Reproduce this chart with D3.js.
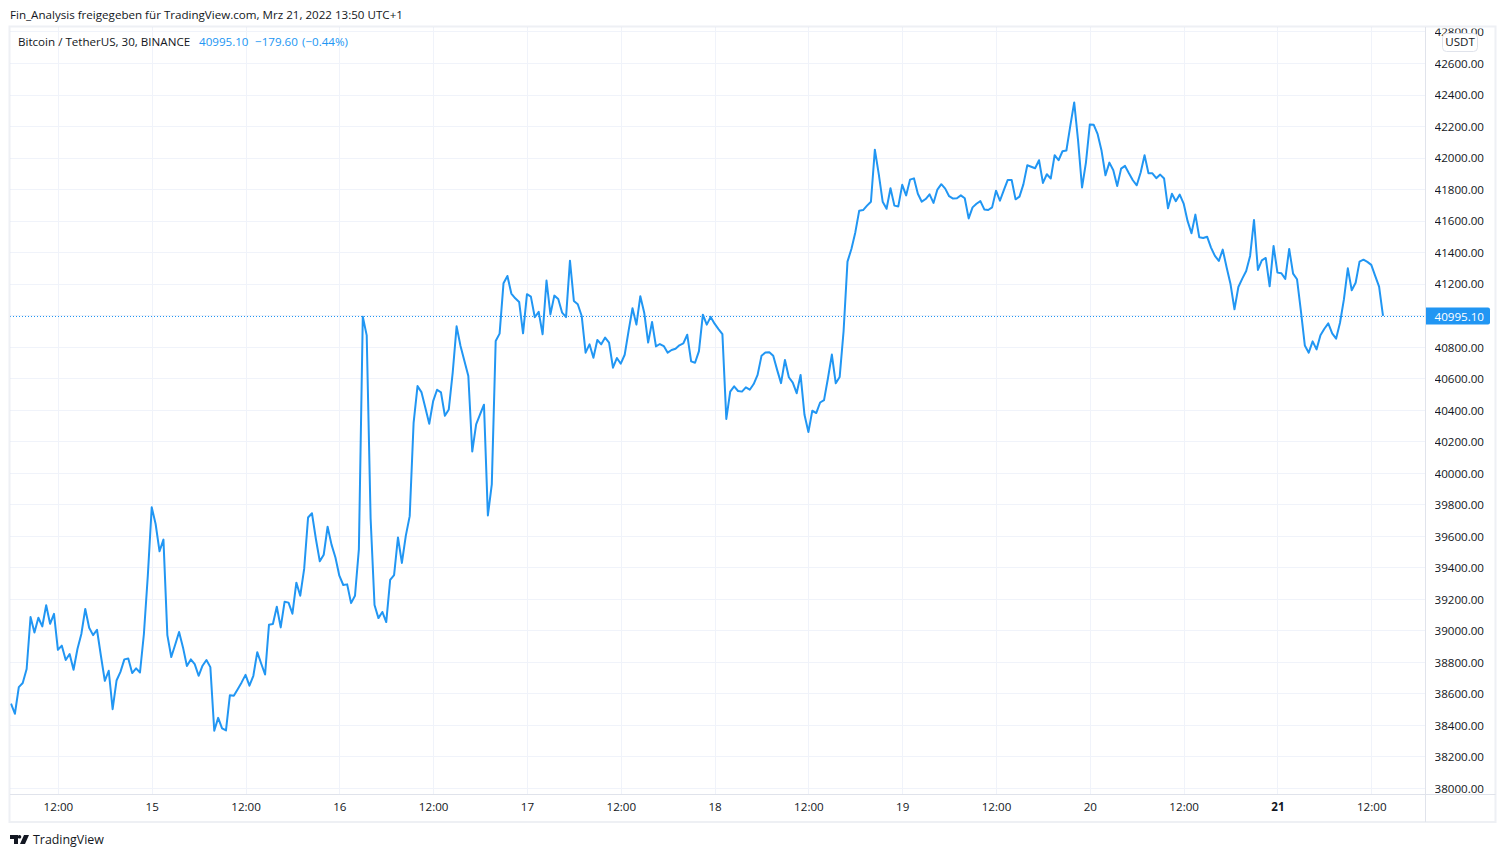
<!DOCTYPE html>
<html><head><meta charset="utf-8">
<script src="https://cdn.jsdelivr.net/npm/d3@7/dist/d3.min.js"></script>
<style>
html,body{margin:0;padding:0;background:#fff}
svg{display:block}
text{font-family:"Open Sans",Lato,sans-serif;font-size:11.6px;fill:#131722}
.domain{display:none}
</style></head><body><svg id="c" width="1505" height="857"></svg>
<script>
const closes = [
38536,38471,38640,38666,38755,39085,38987,39080,39025,39160,39042,39105,38877,38903,38812,38850,38750,38882,38977,39136,
39017,38970,39004,38839,38680,38744,38500,38682,38737,38816,38822,38729,38759,38733,38977,39347,39781,39675,39502,39576,
38970,38831,38909,38990,38892,38774,38816,38786,38712,38776,38812,38767,38363,38445,38378,38365,38589,38585,38627,38670,
38718,38649,38712,38862,38790,38720,39036,39040,39150,39019,39182,39176,39106,39303,39220,39390,39716,39743,39580,39438,
39480,39658,39544,39463,39347,39288,39292,39173,39220,39516,
40990,40872,39710,39161,39078,39117,39053,39320,39351,39590,39428,39600,39725,40317,40550,40512,40413,40311,40455,40527,
40510,40362,40402,40635,40929,40804,40709,40614,40135,40307,40370,40432,39729,39926,40836,40883,41203,41249,41137,41107,
41084,40885,41133,41118,40987,41021,40879,41220,41005,41124,41103,41016,40988,41346,41090,41069,40995,40762,40815,40730,
40843,40815,40858,40826,40667,40728,40692,40749,40900,41044,40940,41120,41016,40826,40957,40802,40817,40804,40762,40779,
40787,40809,40821,40876,40707,40698,40772,
41003,40940,40989,40946,40912,40880,40342,40515,40548,40519,40515,40542,40527,40563,40621,40742,40763,40765,40742,40653,
40569,40716,40606,40572,40505,40621,40368,40259,40394,40379,40446,40461,40600,40750,40568,40608,40898,41340,41420,41525,
41663,41667,41695,41720,42050,41895,41720,41675,41805,41695,41690,41827,41760,41860,41868,41770,41720,41737,41767,41712,
41797,41831,41803,41755,41740,41742,41760,41742,41614,41684,41707,41724,41671,41667,41684,41790,41726,41794,41858,41858,
41735,41752,41830,41951,41942,41932,41983,41839,41894,41867,
42015,41983,42040,42045,42201,42350,42106,41810,41968,42210,42208,42148,42043,41888,41968,41920,41820,41930,41947,41900,
41856,41824,41905,42015,41900,41900,41869,41892,41867,41678,41770,41723,41765,41708,41598,41520,41638,41494,41490,41498,
41429,41376,41344,41416,41302,41196,41037,41179,41232,41280,41376,41604,41287,41348,41363,41183,41439,41270,41266,41230,
41420,41264,41228,41026,40808,40762,40834,40783,40872,40914,40948,40885,40851,40952,41100,41297,41158,41206,41340,41352,
41338,41319,41249,41181,40995.10
];
const priceTicks = [38000,38200,38400,38600,38800,39000,39200,39400,39600,39800,40000,40200,40400,40600,40800,41000,41200,41400,41600,41800,42000,42200,42400,42600,42800];
const timeLabels = ["12:00","15","12:00","16","12:00","17","12:00","18","12:00","19","12:00","20","12:00","21","12:00"];
const lastPrice = 40995.10;
const titleText = "Fin_Analysis freigegeben für TradingView.com, Mrz 21, 2022 13:50 UTC+1";
const symbolText = "Bitcoin / TetherUS, 30, BINANCE";
const quoteParts = ["40995.10","\u2212179.60","(\u22120.44%)"];

const start = Date.UTC(2022,2,14,6,0);
const halfHour = 18e5;
const rows = closes.map((v,i)=>({t:new Date(start+i*halfHour),v}));
const timeTicks = timeLabels.map((_,i)=>new Date(Date.UTC(2022,2,14,12)+i*12*36e5));

const L=10,R=1425,T=27,B=794.5,FR=1495.5,FB=822;
const x=d3.scaleUtc().domain([rows[0].t,rows[rows.length-1].t]).range([11,1383]);
const y=d3.scaleLinear().domain([38000,42600]).range([788,63]);
const blue="#2196f3",grid="#f0f3fa",edge="#e0e3eb";
const svg=d3.select("#c");
const snap=p=>Math.round(p)+.5;

svg.append("defs").append("clipPath").attr("id","pane").append("rect").attr("x",L).attr("y",T).attr("width",R-L).attr("height",B-T);
svg.append("defs").append("clipPath").attr("id","frame").append("rect").attr("x",L).attr("y",T+1).attr("width",FR-L).attr("height",FB-T);

const g=svg.append("g").attr("clip-path","url(#pane)");
g.selectAll(".h").data(priceTicks).join("line").attr("x1",L).attr("x2",R)
 .attr("y1",d=>snap(y(d))).attr("y2",d=>snap(y(d))).attr("stroke",grid);
g.selectAll(".v").data(timeTicks).join("line").attr("y1",T).attr("y2",B)
 .attr("x1",d=>snap(x(d))).attr("x2",d=>snap(x(d))).attr("stroke",grid);

// frame
svg.append("rect").attr("x",9.5).attr("y",26.5).attr("width",FR-9.5).attr("height",FB-26.5).attr("fill","none").attr("stroke",edge).attr("stroke-opacity",.55).attr("stroke-width",2);
svg.append("line").attr("x1",snap(R)).attr("x2",snap(R)).attr("y1",T).attr("y2",FB).attr("stroke",edge);
svg.append("line").attr("x1",L).attr("x2",FR).attr("y1",B).attr("y2",B).attr("stroke",edge);

// last price line
g.append("line").attr("x1",L).attr("x2",R).attr("y1",snap(y(lastPrice))).attr("y2",snap(y(lastPrice)))
 .attr("stroke",blue).attr("stroke-dasharray","1 2");

// series
g.append("path").datum(rows).attr("fill","none").attr("stroke",blue).attr("stroke-width",2).attr("stroke-linejoin","round")
 .attr("d",d3.line().x(d=>x(d.t)).y(d=>y(d.v)));

// axes
const ay=svg.append("g").attr("clip-path","url(#frame)").attr("transform",`translate(${R},0.6)`)
 .call(d3.axisRight(y).tickValues(priceTicks.filter(d=>d!==41000)).tickFormat(d3.format(".2f")).tickSize(0).tickPadding(9.5));
ay.selectAll("text").style("font-size","11.6px");
const ax=svg.append("g").attr("transform",`translate(0,${B+0.6})`)
 .call(d3.axisBottom(x).tickValues(timeTicks).tickFormat((d,i)=>timeLabels[i]).tickSize(0).tickPadding(8));
ax.selectAll("text").style("font-size","11.6px").style("font-weight",(d,i)=>timeLabels[i]==="21"?"700":"400");

// last price badge
const by=y(lastPrice);
svg.append("path").attr("fill",blue)
 .attr("d",`M${R+1},${by-8.5}H1488a2,2 0 0 1 2,2V${by+6.5}a2,2 0 0 1 -2,2H${R+1}Z`);
svg.append("text").attr("x",R+9.5).attr("y",by+.6).attr("dy","0.36em").style("fill","#fff").text(d3.format(".2f")(lastPrice));

// currency badge
svg.append("rect").attr("x",1442.5).attr("y",33.5).attr("width",35).attr("height",18).attr("rx",4).attr("fill","#fff").attr("stroke",edge);
svg.append("text").attr("x",1460).attr("y",42).attr("dy","0.36em").attr("text-anchor","middle").text("USDT");

// headers
svg.append("text").attr("x",10).attr("y",19).text(titleText);
svg.append("text").attr("x",18).attr("y",46).text(symbolText);
svg.selectAll(".q").data(quoteParts).join("text").attr("x",(d,i)=>[199,255,302][i]).attr("y",46).style("fill",blue).text(d=>d);

// TradingView mark
svg.append("path").attr("fill","#131722").attr("d","M10,835H18V844H14V839H10ZM19.5,835A1.8,1.8 0 1 1 19.49,835ZM24,835H29L25,844H20Z");
svg.append("text").attr("x",33).attr("y",844).style("font-size","12.4px").text("TradingView");
</script></body></html>
